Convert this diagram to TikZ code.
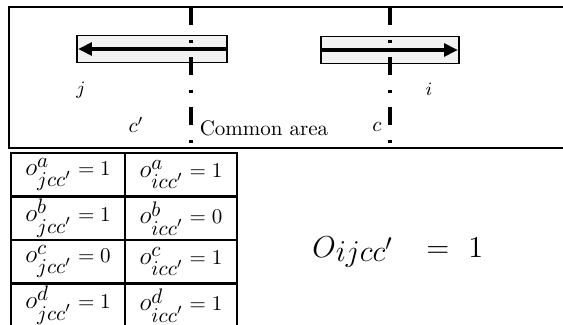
\documentclass[tikz,border=0pt]{standalone}
\usetikzlibrary{arrows.meta,positioning}
\definecolor{OvlGray}{RGB}{242,242,242}
\tikzset{
  ovl/frame/.style={
    draw=black,
    line width=1pt
  },
  ovl/lane/.style={
    draw=black,
    line width=0.5pt,
    fill=OvlGray,
    minimum height=13.3pt,
    inner sep=0pt
  },
  ovl/cut/.style={
    draw=black,
    line width=2pt,
    dash pattern=on 8.6pt off 7.1pt on 1.5pt off 6.6pt
  },
  ovl/arrow/.style={-{Triangle[length=6.5pt,width=6pt]}, line width=2pt, draw=black, shorten >=0.8pt},
  ovl/cell/.style={
    draw=black,
    line width=1pt,
    minimum height=20.7pt,
    inner sep=0pt
  },
  ovl/label/.style={inner sep=0pt}
}
\newcommand{\ovlo}[3]{$\mbox{\large$o$}^{\textstyle #1}_{\textstyle #2cc'} = #3$}

\begin{document}
\begin{tikzpicture}[x=0.476pt,y=-0.476pt]
  \clip (0,0) rectangle (563,325);

  % upper panel
  \draw[ovl/frame] (9,7) rectangle (580,148);
  \node[ovl/lane,minimum width=71.4pt] (lanej) at (152,49) {};
  \node[ovl/lane,minimum width=65.7pt] (lanei) at (390,50) {};
  \draw[ovl/cut] (191,7) -- (191,148);
  \draw[ovl/cut] (390,7) -- (390,148);
  \draw[ovl/arrow] (lanej.east) -- (lanej.west);
  \draw[ovl/arrow] (lanei.west) -- (lanei.east);

  \node[ovl/label,font=\small] (lblj) at (81,90) {$j$};
  \node[ovl/label,font=\small] (lbli) at (429,89) {$i$};
  \node[ovl/label] (lblcp) at (136,125) {$c'$};
  \node[ovl/label] (lblcommon) at (264,128) {Common area};
  \node[ovl/label] (lblc) at (377,127) {$c$};

  % table of overlaps
  \node[ovl/cell,minimum width=54.3pt] (cja) at (68,174.8) {\ovlo{a}{j}{1}};
  \node[ovl/cell,minimum width=53.3pt] (cia) at (181,174.8) {\ovlo{a}{i}{1}};
  \node[ovl/cell,minimum width=54.3pt] (cjb) at (68,218.3) {\ovlo{b}{j}{1}};
  \node[ovl/cell,minimum width=53.3pt] (cib) at (181,218.3) {\ovlo{b}{i}{0}};
  \node[ovl/cell,minimum width=54.3pt] (cjc) at (68,261.8) {\ovlo{c}{j}{0}};
  \node[ovl/cell,minimum width=53.3pt] (cic) at (181,261.8) {\ovlo{c}{i}{1}};
  \node[ovl/cell,minimum width=54.3pt] (cjd) at (68,305.3) {\ovlo{d}{j}{1}};
  \node[ovl/cell,minimum width=53.3pt] (cid) at (181,305.3) {\ovlo{d}{i}{1}};

  \node[ovl/label,anchor=base west,font=\fontsize{15}{18}\selectfont] (total) at (312,258)
    {$O$\raisebox{-1.5pt}{$ijcc'$}\hspace{16pt}$=$\hspace{9pt}$1$};
\end{tikzpicture}
\end{document}
